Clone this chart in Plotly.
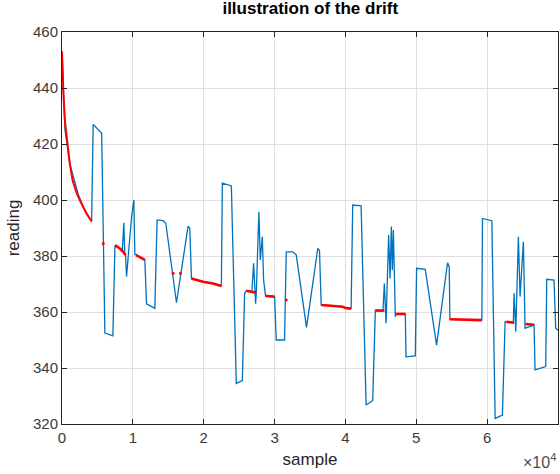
import plotly.graph_objects as go

# Full sensor reading (blue)
sample_x = [0, 180, 420, 1100, 2300, 3000, 3600, 4180,
            4400, 5100, 5600, 6050, 7180, 7470, 7700, 8170, 8500, 8730, 8850, 8970,
            9110, 9580, 9820, 10140, 10280, 10520, 11000, 11690, 11830, 11930, 13100,
            13420, 14260, 14650, 16155, 17790, 18030, 18270, 19900, 21310, 22490,
            22630, 23900, 24600, 25450, 25775, 26014, 26800, 27042, 27324, 27423,
            27789, 27986, 28268, 28451, 28733, 30000, 30240, 31409, 31648, 32578,
            33057, 34508, 36099, 36339, 36578, 39620, 40000, 40803, 41029, 42212,
            42916, 43846, 44226, 45300, 45493, 45733, 46099, 46300, 46479, 46620,
            46761, 47043, 47141, 48451, 48550, 49860, 50043, 51268, 52860, 54409,
            54648, 54747, 59254, 59339, 60663, 61127, 62155, 62535, 63700, 63803,
            64042, 64408, 64648, 65113, 65352, 66620, 66761, 68268, 68409, 69437,
            69677, 70000]
reading_y = [453, 440, 425, 413, 402, 397.5, 395, 392.3,
             427, 425, 423.8, 352.5, 351.5, 383.5, 383.8, 382.7, 381.8, 391.9, 381, 380.4,
             372.6, 386.9, 394, 400, 380.5, 380.5, 379.5, 378.6, 363.1, 362.9, 361.3,
             392.9, 392.6, 391.7, 363.3, 390.6, 390, 372, 370.8, 370.2, 369.3,
             406, 405, 334.5, 335.5, 366.7, 367.6, 367.2, 377.4, 363, 366.9,
             395.8, 378.6, 386.9, 371.4, 365.7, 365.5, 350, 350, 381.5, 381.5,
             380.4, 354.5, 382.7, 382, 362.5, 361.9, 361.3, 361.3, 398.2, 397.9,
             326.8, 328.3, 360.7, 360.5, 370.2, 356, 387.5, 372, 390.5, 375,
             389.3, 358.3, 359.3, 359.3, 344, 344.3, 375.6, 375.2, 348.2, 377.6,
             376.2, 357.4, 357.1, 393.4, 392.6, 322, 323.2, 356.5, 356.2, 366.7,
             353, 386.9, 365.5, 385.1, 354.2, 355.4, 339.3, 340.5, 371.7, 371.4,
             354.2, 353.5]

# Initial drift (red decay curve)
decay_x = [0, 100, 200, 420, 700, 1100, 1500, 2000, 2500, 3000, 3500, 4180]
decay_y = [453, 444, 438, 428, 421, 413, 407, 403, 400, 397.5, 395, 392.3]

# Drift plateaus (red), None separates segments
drift_x = [7470, 8170, 8630, 8970, None,
           10450, 11000, 11690, None,
           18270, 19900, 21310, 22490, None,
           26014, 27423, None,
           28733, 30000, None,
           36578, 39620, 40000, 40803, None,
           44300, 45493, None,
           47141, 48451, None,
           54747, 59254, None,
           62700, 63803, None,
           65400, 66620]
drift_y = [383.8, 382.7, 381.5, 380.4, None,
           380.3, 379.5, 378.6, None,
           372, 370.8, 370.2, 369.3, None,
           367.6, 366.9, None,
           365.7, 365.5, None,
           362.5, 361.9, 361.4, 361.2, None,
           360.5, 360.5, None,
           359.3, 359.3, None,
           357.4, 357.1, None,
           356.5, 356.2, None,
           355.7, 355.4]

dot_x = [5817, 15676, 16718, 31648]
dot_y = [384.5, 373.8, 373.8, 364.3]

x_ticks = [0, 10000, 20000, 30000, 40000, 50000, 60000, 70000]
x_tick_text = ["0", "1", "2", "3", "4", "5", "6", "7"]
y_ticks = [320, 340, 360, 380, 400, 420, 440, 460]

FONT = "Liberation Sans, Arial, sans-serif"

fig = go.Figure()
fig.add_trace(go.Scatter(x=sample_x, y=reading_y, mode="lines",
                         line=dict(color="#0072BD", width=1.3), showlegend=False))
fig.add_trace(go.Scatter(x=decay_x, y=decay_y, mode="lines",
                         line=dict(color="#FF0000", width=2), showlegend=False))
fig.add_trace(go.Scatter(x=drift_x, y=drift_y, mode="lines", connectgaps=False,
                         line=dict(color="#FF0000", width=2.6), showlegend=False))
fig.add_trace(go.Scatter(x=dot_x, y=dot_y, mode="markers",
                         marker=dict(color="#FF0000", size=3), showlegend=False))

axis_common = dict(showgrid=True, gridcolor="#DFDFDF", gridwidth=1,
                   showline=True, linecolor="#262626", linewidth=1,
                   mirror="allticks", ticks="inside", ticklen=5,
                   tickcolor="#262626", zeroline=False, automargin=False,
                   tickfont=dict(family=FONT, size=15, color="#3A3A3A"))

fig.update_layout(
    width=560, height=474,
    margin=dict(l=62, r=2, t=32, b=50),
    paper_bgcolor="white", plot_bgcolor="white",
    title=dict(text="<b>illustration of the drift</b>", x=0.554, xanchor="center",
               y=0.995, yanchor="top",
               font=dict(family=FONT, size=17, color="#000000")),
    xaxis=dict(range=[0, 70000], tickvals=x_ticks, ticktext=x_tick_text,
               title=dict(text="sample", standoff=8,
                          font=dict(family=FONT, size=17, color="#262626")),
               **axis_common),
    yaxis=dict(range=[320, 460], tickvals=y_ticks,
               title=dict(text="reading", standoff=9,
                          font=dict(family=FONT, size=17, color="#262626")),
               **axis_common),
)
fig.add_annotation(text="×10<sup>4</sup>", xref="paper", yref="paper",
                   x=1.0, y=-0.095, xanchor="right", yanchor="middle", showarrow=False,
                   font=dict(family=FONT, size=16, color="#4D4D4D"))

fig.write_html("out.html", config={"displayModeBar": False},
               post_script="document.body.style.margin='0';document.body.style.padding='0';document.body.style.overflow='hidden';")
